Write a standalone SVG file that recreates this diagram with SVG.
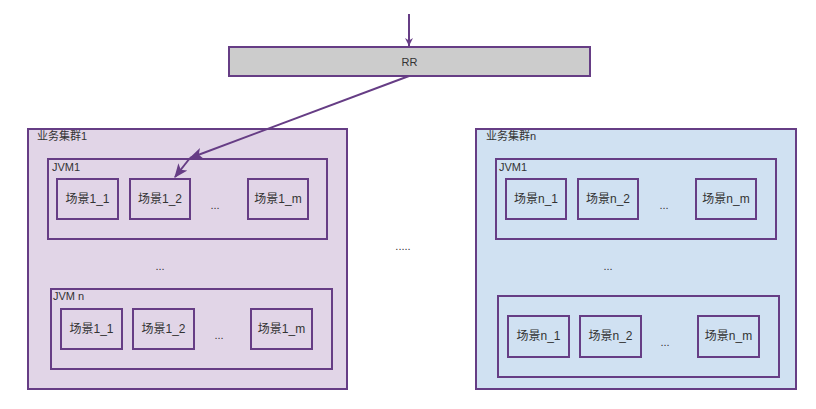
<svg xmlns="http://www.w3.org/2000/svg" width="816" height="409" viewBox="0 0 816 409">
<style>
text{font-family:"Liberation Sans","Noto Sans CJK SC",sans-serif;fill:#333;}
.box{stroke:#663d85;stroke-width:2;}
.c1{fill:#e1d5e7;}
.cn{fill:#d0e1f2;}
.rr{fill:#cccccc;}
.lbl{font-size:11px;}
.sc{font-size:12px;text-anchor:middle;}
.dots{font-size:11px;text-anchor:middle;}
.edge{stroke:#663d85;stroke-width:2;fill:none;}
</style>
<defs>
<marker id="small" viewBox="0 0 10 10" refX="10" refY="5" markerWidth="9" markerHeight="8" markerUnits="userSpaceOnUse" orient="auto">
<path d="M0,0 L10,5 L0,10 L3,5 Z" fill="#663d85"/>
</marker>
<marker id="fill" viewBox="0 0 12 10" refX="11" refY="5" markerWidth="14" markerHeight="12" markerUnits="userSpaceOnUse" orient="auto">
<path d="M0,0 L12,5 L0,10 L3,5 Z" fill="#663d85"/>
</marker>
</defs>
<g id="rr">
<rect class="box rr" x="229" y="47" width="361" height="29"/>
<text x="409.5" y="66" class="sc" style="font-size:11px">RR</text>
</g>
<g id="cluster1">
<rect class="box c1" x="28" y="129" width="319" height="260"/>
<text class="lbl" x="37" y="140">业务集群1</text>
</g>
<g id="c1jvm1">
<rect class="box c1" x="48" y="159" width="279" height="80"/>
<text class="lbl" x="52" y="171">JVM1</text>
<rect class="box c1" x="57" y="179" width="61" height="40"/>
<text class="sc" x="87.5" y="203">场景1_1</text>
<rect class="box c1" x="130" y="179" width="60" height="40"/>
<text class="sc" x="160" y="203">场景1_2</text>
<text class="dots" x="215" y="209">...</text>
<rect class="box c1" x="248" y="179" width="60" height="40"/>
<text class="sc" x="278" y="203">场景1_m</text>
</g>
<text class="dots" x="160" y="270">...</text>
<g id="c1jvmn">
<rect class="box c1" x="51" y="289" width="281" height="80"/>
<text class="lbl" x="53" y="300">JVM n</text>
<rect class="box c1" x="61" y="309" width="61" height="40"/>
<text class="sc" x="91.5" y="333">场景1_1</text>
<rect class="box c1" x="133" y="309" width="61" height="40"/>
<text class="sc" x="163.5" y="333">场景1_2</text>
<text class="dots" x="219" y="339">...</text>
<rect class="box c1" x="251" y="309" width="61" height="40"/>
<text class="sc" x="281.5" y="333">场景1_m</text>
</g>
<text class="dots" x="403" y="250">.....</text>
<g id="clustern">
<rect class="box cn" x="476" y="129" width="320" height="260"/>
<text class="lbl" x="486" y="140">业务集群n</text>
</g>
<g id="cnjvm1">
<rect class="box cn" x="496" y="159" width="280" height="80"/>
<text class="lbl" x="499" y="171">JVM1</text>
<rect class="box cn" x="506" y="179" width="60" height="40"/>
<text class="sc" x="536" y="203">场景n_1</text>
<rect class="box cn" x="578" y="179" width="60" height="40"/>
<text class="sc" x="608" y="203">场景n_2</text>
<text class="dots" x="664" y="209">...</text>
<rect class="box cn" x="696" y="179" width="60" height="40"/>
<text class="sc" x="726" y="203">场景n_m</text>
</g>
<text class="dots" x="608" y="270">...</text>
<g id="cnjvmn">
<rect class="box cn" x="498" y="296" width="281" height="81"/>
<rect class="box cn" x="508" y="316" width="61" height="41"/>
<text class="sc" x="538.5" y="340">场景n_1</text>
<rect class="box cn" x="580" y="316" width="61" height="41"/>
<text class="sc" x="610.5" y="340">场景n_2</text>
<text class="dots" x="665" y="346">...</text>
<rect class="box cn" x="698" y="316" width="61" height="41"/>
<text class="sc" x="728.5" y="340">场景n_m</text>
</g>
<g id="edges">
<path class="edge" d="M409,14 L409,46" marker-end="url(#small)"/>
<path class="edge" d="M409,76 L190,158" marker-end="url(#fill)"/>
<path class="edge" d="M190,158 L175,177" marker-end="url(#fill)"/>
</g>
</svg>
